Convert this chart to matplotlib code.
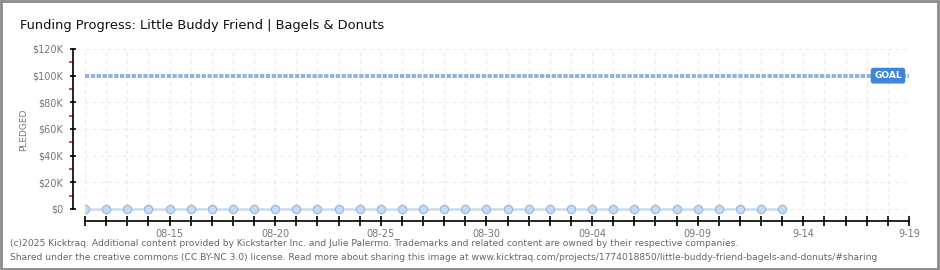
import datetime as dt
import matplotlib
matplotlib.use("Agg")
import matplotlib.pyplot as plt
import matplotlib.dates as mdates
from matplotlib.patches import Rectangle

# data
start_date = "2025-08-11"
end_date = "2025-09-19"
days = [dt.date(2025, 8, 11) + dt.timedelta(days=i) for i in range(34)]
pledged = [0] * 34
goal = 100000
y_ticks = [0, 20000, 40000, 60000, 80000, 100000, 120000]
y_tick_labels = ["$0", "$20K", "$40K", "$60K", "$80K", "$100K", "$120K"]
x_label_dates = ["2025-08-15", "2025-08-20", "2025-08-25", "2025-08-30",
                 "2025-09-04", "2025-09-09", "2025-09-14", "2025-09-19"]
x_label_text = ["08-15", "08-20", "08-25", "08-30", "09-04", "09-09", "9-14", "9-19"]

W, H = 940, 270
fig = plt.figure(figsize=(W / 100, H / 100), dpi=100)
fig.patch.set_facecolor("white")

def px(x0, y0, x1, y1):
    return [x0 / W, 1 - y1 / H, (x1 - x0) / W, (y1 - y0) / H]

ax = fig.add_axes(px(85, 49, 909, 221))
x0 = mdates.date2num(dt.date.fromisoformat(start_date))
x1 = mdates.date2num(dt.date.fromisoformat(end_date))
ax.set_xlim(x0, x1)
ax.set_ylim(-9000, 120000)

# grid
for d in range(int(x0), int(x1) + 1):
    ax.axvline(d, color="#ebebeb", lw=0.9, ls=(0, (3, 3)), zorder=0)
for yv in y_ticks:
    ax.axhline(yv, color="#ebebeb", lw=0.9, ls=(0, (3, 3)), zorder=0)

# goal line
ax.axhline(goal, color="#8fb2de", lw=2.8, ls=(0, (1.1, 0.4)), zorder=2)
gx = x0 + (888 - 85) / (909 - 85) * (x1 - x0)
ax.text(gx, goal, "GOAL", color="white", fontsize=6.5, fontweight="bold",
        ha="center", va="center", zorder=5,
        bbox=dict(boxstyle="round,pad=0.3,rounding_size=0.2", fc="#3d86d8", ec="#3d86d8"))

# pledged series
xs = mdates.date2num(days)
ax.plot(xs, pledged, color="#c8dcf0", lw=1.8, zorder=3)
ax.plot(xs, pledged, ls="none", marker="o", ms=6, mfc="#c2dcf6", mec="#98b6d6",
        mew=0.8, zorder=4)

# spines and ticks
for s in ["top", "right"]:
    ax.spines[s].set_visible(False)
ax.spines["left"].set_position(("outward", 9))
ax.spines["left"].set_bounds(0, 120000)
ax.spines["left"].set_linewidth(1.2)
ax.spines["bottom"].set_linewidth(1.2)

ax.set_yticks(y_ticks)
ax.set_yticklabels(y_tick_labels)
ax.set_yticks([10000, 30000, 50000, 70000, 90000, 110000], minor=True)
ax.tick_params(axis="y", which="major", direction="inout", length=5, width=1.2,
               labelsize=7, labelcolor="#777777", pad=4)
ax.tick_params(axis="y", which="minor", direction="out", length=3, width=1.2,
               color="#ff1010")

ax.set_xticks(list(range(int(x0), int(x1) + 1)), minor=True)
ax.set_xticks([mdates.date2num(dt.date.fromisoformat(d)) for d in x_label_dates])
ax.set_xticklabels(x_label_text)
ax.tick_params(axis="x", which="both", direction="inout", length=7, width=1.2,
               labelsize=7, labelcolor="#777777", pad=2)

ax.set_ylabel("PLEDGED", fontsize=6.5, color="#777777")
ax.yaxis.set_label_coords((28 - 85) / 824, 0.53)

fig.text(20 / W, 1 - 25 / H, "Funding Progress: Little Buddy Friend | Bagels & Donuts",
         fontsize=9.4, color="#111111", va="center", ha="left")

fig.text(10 / W, 1 - 243 / H,
         "(c)2025 Kicktraq. Additional content provided by Kickstarter Inc. and Julie Palermo. "
         "Trademarks and related content are owned by their respective companies.",
         fontsize=6.6, color="#666666", va="center", ha="left")
fig.text(10 / W, 1 - 257 / H,
         "Shared under the creative commons (CC BY-NC 3.0) license. Read more about sharing this image at "
         "www.kicktraq.com/projects/1774018850/little-buddy-friend-bagels-and-donuts/#sharing",
         fontsize=6.6, color="#666666", va="center", ha="left")

fig.patches.append(Rectangle((0.001, 0.002), 0.997, 0.995, transform=fig.transFigure,
                             fill=False, ec="#8a8a8a", lw=2))

fig.savefig("out.png", dpi=100)
